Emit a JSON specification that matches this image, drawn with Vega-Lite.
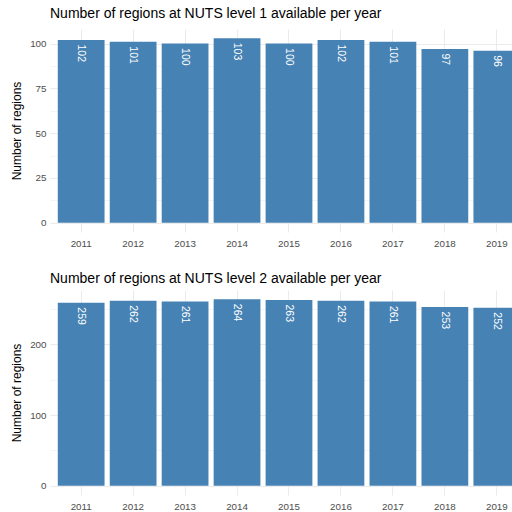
{
  "$schema": "https://vega.github.io/schema/vega-lite/v6.json",
  "padding": {"left": 10, "top": 7, "right": 0, "bottom": 0},
  "spacing": 24,
  "config": {
    "font": "Liberation Sans",
    "view": {"stroke": null},
    "title": {"anchor": "start", "frame": "group", "fontSize": 14, "fontWeight": "normal", "color": "#000000", "offset": 8},
    "axis": {"labelFont": "Liberation Sans", "labelFontSize": 9.8, "labelColor": "#4D4D4D", "titleFont": "Liberation Sans", "titleFontSize": 12, "titleFontWeight": "normal", "titleColor": "#000000", "domain": false, "ticks": false, "gridColor": "#EBEBEB"}
  },
  "data": {
    "values": [
      {"level": 1, "year": "2011", "n": 102},
      {"level": 1, "year": "2012", "n": 101},
      {"level": 1, "year": "2013", "n": 100},
      {"level": 1, "year": "2014", "n": 103},
      {"level": 1, "year": "2015", "n": 100},
      {"level": 1, "year": "2016", "n": 102},
      {"level": 1, "year": "2017", "n": 101},
      {"level": 1, "year": "2018", "n": 97},
      {"level": 1, "year": "2019", "n": 96},
      {"level": 2, "year": "2011", "n": 259},
      {"level": 2, "year": "2012", "n": 262},
      {"level": 2, "year": "2013", "n": 261},
      {"level": 2, "year": "2014", "n": 264},
      {"level": 2, "year": "2015", "n": 263},
      {"level": 2, "year": "2016", "n": 262},
      {"level": 2, "year": "2017", "n": 261},
      {"level": 2, "year": "2018", "n": 253},
      {"level": 2, "year": "2019", "n": 252}
    ]
  },
  "vconcat": [
    {
      "title": "Number of regions at NUTS level 1 available per year",
      "width": 478,
      "height": 203,
      "transform": [{"filter": "datum.level == 1"}],
      "encoding": {
        "x": {"field": "year", "type": "ordinal", "title": null,
          "scale": {"paddingInner": 0.1, "paddingOuter": 0.15},
          "axis": {"labelAngle": 0, "labelPadding": 6, "bandPosition": 0.5, "grid": true}},
        "y": {"field": "n", "type": "quantitative", "title": "Number of regions",
          "scale": {"domain": [-5.15, 108.15], "zero": false, "nice": false},
          "axis": {"values": [0, 12.5, 25, 37.5, 50, 62.5, 75, 87.5, 100],
            "labelExpr": "datum.value % 25 == 0 ? datum.label : ''",
            "gridWidth": {"condition": {"test": "datum.value % 25 != 0", "value": 0.5}, "value": 1},
            "labelPadding": 4, "titlePadding": 6}}
      },
      "layer": [
        {"mark": {"type": "bar", "color": "#4682B4"}, "encoding": {"y2": {"datum": 0}}},
        {"mark": {"type": "text", "angle": 90, "align": "left", "baseline": "middle", "dx": 4.5, "color": "white", "fontSize": 10.5},
          "encoding": {"text": {"field": "n", "type": "quantitative"}}}
      ]
    },
    {
      "title": {"text": "Number of regions at NUTS level 2 available per year", "offset": 4},
      "width": 478,
      "height": 205,
      "transform": [{"filter": "datum.level == 2"}],
      "encoding": {
        "x": {"field": "year", "type": "ordinal", "title": null,
          "scale": {"paddingInner": 0.1, "paddingOuter": 0.15},
          "axis": {"labelAngle": 0, "labelPadding": 6, "bandPosition": 0.5, "grid": true}},
        "y": {"field": "n", "type": "quantitative", "title": "Number of regions",
          "scale": {"domain": [-13.2, 277.2], "zero": false, "nice": false},
          "axis": {"values": [0, 50, 100, 150, 200, 250],
            "labelExpr": "datum.value % 100 == 0 ? datum.label : ''",
            "gridWidth": {"condition": {"test": "datum.value % 100 != 0", "value": 0.5}, "value": 1},
            "labelPadding": 4, "titlePadding": 6}}
      },
      "layer": [
        {"mark": {"type": "bar", "color": "#4682B4"}, "encoding": {"y2": {"datum": 0}}},
        {"mark": {"type": "text", "angle": 90, "align": "left", "baseline": "middle", "dx": 4.5, "color": "white", "fontSize": 10.5},
          "encoding": {"text": {"field": "n", "type": "quantitative"}}}
      ]
    }
  ]
}
